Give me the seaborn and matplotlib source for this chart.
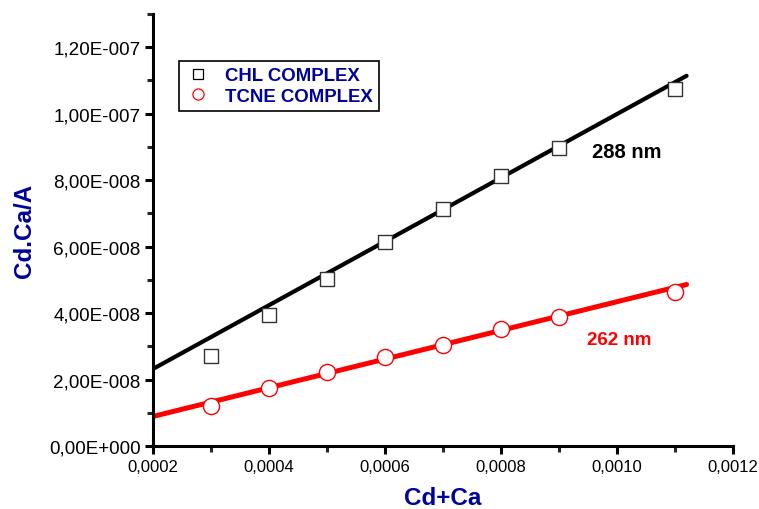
import numpy as np
import pandas as pd
import matplotlib
matplotlib.use("Agg")
import matplotlib.pyplot as plt
from matplotlib.ticker import FuncFormatter, MultipleLocator
from matplotlib.lines import Line2D
import seaborn as sns

# ---- data ----
conc = [0.0003, 0.0004, 0.0005, 0.0006, 0.0007, 0.0008, 0.0009, 0.0011]
chl_vals = [2.71e-8, 3.93e-8, 5.03e-8, 6.14e-8, 7.14e-8, 8.13e-8, 8.98e-8, 1.075e-7]
tcne_vals = [1.20e-8, 1.74e-8, 2.22e-8, 2.67e-8, 3.04e-8, 3.51e-8, 3.88e-8, 4.63e-8]
fit_x = [0.0002, 0.00112]
chl_fit = [2.32e-8, 1.114e-7]
tcne_fit = [0.89e-8, 4.86e-8]
series_names = ["CHL COMPLEX", "TCNE COMPLEX"]
x_ticks = [0.0002, 0.0004, 0.0006, 0.0008, 0.0010, 0.0012]
y_ticks = [0.0, 2e-8, 4e-8, 6e-8, 8e-8, 1e-7, 1.2e-7]

sns.set_theme(style="ticks")
plt.rcParams['font.family'] = ['Liberation Sans', 'DejaVu Sans']

pts = pd.DataFrame({"x": conc * 2, "y": chl_vals + tcne_vals,
                    "series": [series_names[0]] * len(conc) + [series_names[1]] * len(conc)})
fits = pd.DataFrame({"x": fit_x * 2, "y": chl_fit + tcne_fit,
                     "series": [series_names[0]] * 2 + [series_names[1]] * 2})

fig = plt.figure(figsize=(7.59, 5.10), dpi=100)
ax = fig.add_axes([0.2016, 0.1235, 0.7641, 0.8471])

navy = "#00009C"
sns.lineplot(data=fits[fits.series == series_names[0]], x="x", y="y", color="black",
             linewidth=3.0, ax=ax, legend=False, zorder=2)
sns.lineplot(data=fits[fits.series == series_names[1]], x="x", y="y", color="#FF0000",
             linewidth=3.6, ax=ax, legend=False, zorder=2)
sns.scatterplot(data=pts[pts.series == series_names[0]], x="x", y="y", marker="s", s=105,
                facecolor="white", edgecolor="#333333", linewidth=1.0, ax=ax, legend=False, zorder=3)
sns.scatterplot(data=pts[pts.series == series_names[1]], x="x", y="y", marker="o", s=135,
                facecolor="white", edgecolor="#FF0000", linewidth=1.0, ax=ax, legend=False, zorder=3)

ax.set_xlim(0.0002, 0.0012)
ax.set_ylim(0, 1.3e-7)
ax.set_xticks(x_ticks)
ax.set_yticks(y_ticks)
ax.xaxis.set_minor_locator(MultipleLocator(0.0001))
ax.yaxis.set_minor_locator(MultipleLocator(1e-8))

def yfmt(v, pos):
    if v == 0:
        return "0,00E+000"
    e = int(np.floor(np.log10(abs(v)) + 1e-9))
    m = v / 10 ** e
    sign = "+" if e >= 0 else "-"
    return f"{m:.2f}".replace(".", ",") + f"E{sign}{abs(e):03d}"

ax.yaxis.set_major_formatter(FuncFormatter(yfmt))
ax.xaxis.set_major_formatter(FuncFormatter(lambda v, p: f"{v:.4f}".replace(".", ",")))

for s in ["top", "right"]:
    ax.spines[s].set_visible(False)
for s in ["left", "bottom"]:
    ax.spines[s].set_linewidth(2.2)
    ax.spines[s].set_color("black")
ax.tick_params(which="major", direction="out", length=6, width=2.2, colors="black", pad=3)
ax.tick_params(axis="y", which="major", labelsize=13.6)
ax.tick_params(axis="x", which="major", labelsize=12.0)
ax.tick_params(which="minor", direction="out", length=4.5, width=2.2)

ax.set_xlabel("Cd+Ca", fontsize=17.5, fontweight="bold", color=navy, labelpad=9)
ax.set_ylabel("Cd.Ca/A", fontsize=17.5, fontweight="bold", color=navy, labelpad=9)

ax.text(0.000957, 8.86e-8, "288 nm", fontsize=14.5, fontweight="bold", color="black", va="center", ha="left")
ax.text(0.000948, 3.22e-8, "262 nm", fontsize=13.5, fontweight="bold", color="#FF0000", va="center", ha="left")

handles = [Line2D([], [], linestyle="none", marker="s", markersize=7, markerfacecolor="white",
                  markeredgecolor="black", markeredgewidth=0.9),
           Line2D([], [], linestyle="none", marker="o", markersize=8, markerfacecolor="white",
                  markeredgecolor="#FF0000", markeredgewidth=0.9)]
leg = ax.legend(handles, series_names, loc="upper left", bbox_to_anchor=(0.045, 0.892),
                frameon=True, fancybox=False, framealpha=1, edgecolor="black",
                prop={"weight": "bold", "size": 13.4}, handlelength=1.3, handletextpad=0.8,
                borderpad=0.35, labelspacing=0.2, borderaxespad=0)
leg.get_frame().set_linewidth(1.2)
for t in leg.get_texts():
    t.set_color(navy)

fig.savefig("out.png", dpi=100)
